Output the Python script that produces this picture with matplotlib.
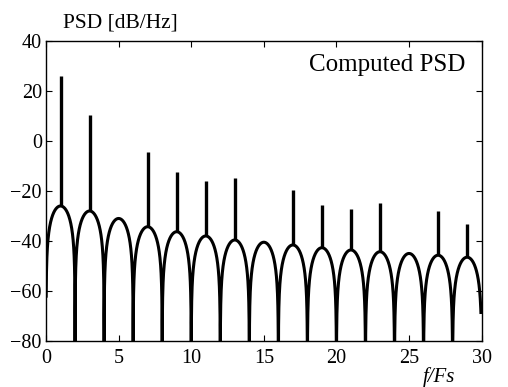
import numpy as np
import matplotlib
matplotlib.use('Agg')
import matplotlib.pyplot as plt

plt.rcParams['font.family'] = ['Liberation Serif', 'DejaVu Serif']

# lobe centres (f/Fs) and their peak levels [dB/Hz]
lobe_center = [1, 3, 5, 7, 9, 11, 13, 15, 17, 19, 21, 23, 25, 27, 29]
lobe_peak = [-26, -28, -31, -34.3, -36.3, -38, -39.6, -40.5, -41.6,
             -42.7, -43.6, -44.3, -45, -45.7, -46.5]

# discrete spectral lines
spike_freq = [1, 3, 7, 9, 11, 13, 17, 19, 21, 23, 27, 29]
spike_level = [26, 10.5, -4.3, -12.5, -16, -15, -19.6, -25.6, -27.3,
               -25, -28, -33.2]

x_ticks = [0, 5, 10, 15, 20, 25, 30]
y_ticks = [-80, -60, -40, -20, 0, 20, 40]

# continuous part: sin-shaped lobes between the nulls at even f/Fs
f = np.union1d(np.linspace(0.01, 29.95, 6000), np.arange(2, 30, 2))
idx = np.clip(np.floor(f / 2).astype(int), 0, len(lobe_peak) - 1)
shape = 20 * np.log10(np.abs(np.sin(np.pi * f / 2)) + 1e-9)
psd = np.array(lobe_peak)[idx] + shape
psd = np.maximum(psd, -100)

fig = plt.figure(figsize=(5.08, 3.87), dpi=100)
ax = fig.add_axes([0.0906, 0.119, 0.8575, 0.775])

ax.plot(f, psd, color='k', lw=2.2, solid_joinstyle='round')
base = np.interp(spike_freq, f, psd)
ax.vlines(spike_freq, base, spike_level, colors='k', lw=2.4)

ax.set_xlim(0, 30)
ax.set_ylim(-80, 40)
ax.set_xticks(x_ticks)
ax.set_yticks(y_ticks)
ax.tick_params(direction='in', top=True, right=True, length=4,
               labelsize=14.5, width=0.8)
ax.tick_params(axis='x', pad=6)
ax.tick_params(axis='y', pad=3)
for s in ax.spines.values():
    s.set_linewidth(1.0)

ax.text(0.963, 0.901, 'Computed PSD', transform=ax.transAxes,
        ha='right', va='baseline', fontsize=18)
fig.text(0.124, 0.9294, 'PSD [dB/Hz]', ha='left', va='baseline',
         fontsize=15.5)
fig.text(0.833, 0.012, 'f/Fs', ha='left', va='baseline', fontsize=15,
         style='italic')

plt.savefig('out.png', dpi=100)
